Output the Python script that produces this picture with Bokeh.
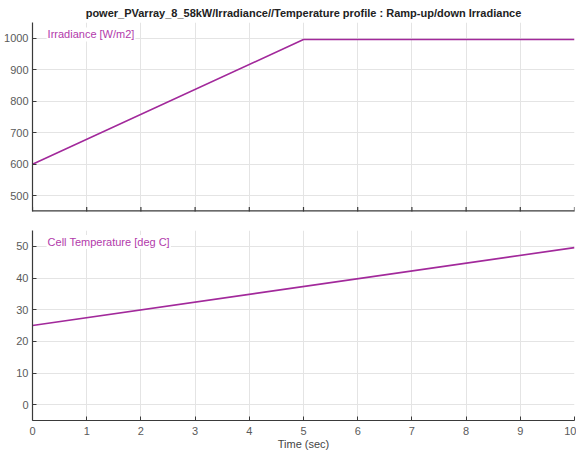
import math
from bokeh.plotting import figure
from bokeh.layouts import column
from bokeh.models import Range1d, Label, FixedTicker, Span
from bokeh.embed import file_html
from bokeh.resources import INLINE

# data
time_irr = [0, 5, 10]
irradiance = [600, 996, 996]
time_temp = [0, 10]
temperature = [25, 49.6]

title_text = "power_PVarray_8_58kW/Irradiance//Temperature profile : Ramp-up/down Irradiance"
irr_label = "Irradiance [W/m2]"
temp_label = "Cell Temperature [deg C]"
x_label = "Time (sec)"

x_ticks = list(range(0, 11))
irr_ticks = [500, 600, 700, 800, 900, 1000]
temp_ticks = [0, 10, 20, 30, 40, 50]

LINE = "#a2299b"
TXT = "#b23aab"
FONT = "Liberation Sans"
AX = "#3a3a3a"
TICKC = "#5a5a5a"
GRID = "#e4e4e4"

xr = Range1d(0, 10)


def style(p, yticks):
    p.outline_line_color = None
    p.background_fill_color = "white"
    for ax in (p.xaxis, p.yaxis):
        ax.axis_line_color = AX
        ax.axis_line_width = 1.2
        ax.major_tick_line_color = AX
        ax.major_tick_in = 4
        ax.major_tick_out = 0
        ax.minor_tick_line_color = None
        ax.major_label_text_font = FONT
        ax.major_label_text_font_size = "11px"
        ax.major_label_text_color = TICKC
    p.xaxis.ticker = FixedTicker(ticks=x_ticks)
    p.yaxis.ticker = FixedTicker(ticks=yticks)
    p.yaxis.major_label_standoff = 4
    p.xgrid.ticker = FixedTicker(ticks=x_ticks)
    p.ygrid.ticker = FixedTicker(ticks=yticks)
    p.grid.grid_line_color = GRID
    p.grid.grid_line_width = 1


p1 = figure(width=576, height=215, x_range=xr, y_range=Range1d(450, 1050),
            output_backend="svg", toolbar_location=None,
            min_border_left=32, min_border_right=2, min_border_bottom=4,
            min_border_top=22)
p1.title.text = title_text
p1.title.align = "center"
p1.title.text_font = FONT
p1.title.text_font_size = "11px"
p1.title.text_font_style = "bold"
p1.title.text_color = "#222222"
p1.title.standoff = 7
style(p1, irr_ticks)
p1.xaxis.visible = False
# bottom axis line and inward ticks of the top panel
p1.add_layout(Span(location=450, dimension="width", line_color=AX, line_width=2.4))
p1.scatter(x_ticks, [450] * len(x_ticks), marker="dash", angle=math.pi / 2,
           size=9, line_color=AX, line_width=1.2)
p1.line(time_irr, irradiance, line_color=LINE, line_width=1.6)
p1.add_layout(Label(x=0.26, y=1012, text=irr_label, text_font=FONT,
                    text_font_size="11px", text_color=TXT,
                    text_baseline="middle", background_fill_color="white",
                    padding=1))

p2 = figure(width=576, height=237, x_range=xr, y_range=Range1d(-5, 55),
            output_backend="svg", toolbar_location=None,
            min_border_left=32, min_border_right=2, min_border_top=15,
            min_border_bottom=0)
style(p2, temp_ticks)
p2.xaxis.major_label_standoff = 6
p2.xaxis.axis_label = x_label
p2.xaxis.axis_label_text_font = FONT
p2.xaxis.axis_label_text_font_size = "11px"
p2.xaxis.axis_label_text_font_style = "normal"
p2.xaxis.axis_label_text_color = "#444444"
p2.xaxis.axis_label_standoff = 0
p2.line(time_temp, temperature, line_color=LINE, line_width=1.6)
p2.add_layout(Label(x=0.26, y=51.4, text=temp_label, text_font=FONT,
                    text_font_size="11px", text_color=TXT,
                    text_baseline="middle", background_fill_color="white",
                    padding=1))

layout = column(p1, p2, spacing=0)
open("out.html", "w").write(file_html(layout, INLINE))
